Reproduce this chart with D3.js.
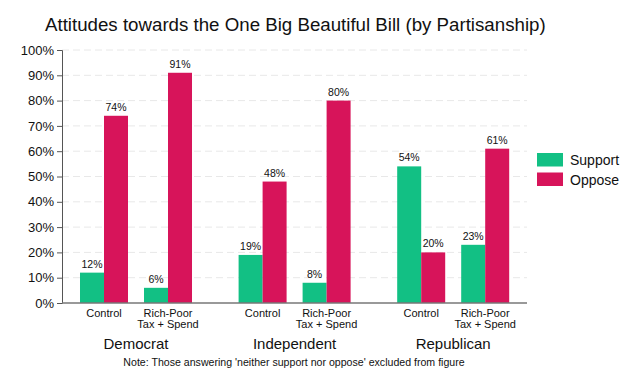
<!DOCTYPE html>
<html>
<head>
<meta charset="utf-8">
<script src="https://cdn.jsdelivr.net/npm/d3@7"></script>
<style>
  body { margin:0; background:#fff; }
  text { font-family: "Liberation Sans", Arial, sans-serif; fill:#111; }
</style>
</head>
<body>
<svg id="chart" width="640" height="384"></svg>
<script>
// data
var parties = ["Democrat", "Independent", "Republican"];
var conditions = ["Control", "Rich-Poor Tax + Spend"];
var series = ["Support", "Oppose"];
var supportVals = [12, 6, 19, 8, 54, 23];
var opposeVals = [74, 91, 48, 80, 20, 61];
var yTicks = [0, 10, 20, 30, 40, 50, 60, 70, 80, 90, 100];
var colors = ["#12c084", "#d7145a"];

var rows = [];
parties.forEach(function(p, i) {
    conditions.forEach(function(c, j) {
        var k = i * 2 + j;
        rows.push({party: p, cond: c, vals: [supportVals[k], opposeVals[k]]});
    });
});

var svg = d3.select("#chart");

var plot = {left: 62, right: 527, top: 50, bottom: 303};

var x0 = d3.scaleBand().domain(parties).range([56.7, 532.5]).padding(0);
var x1 = d3.scaleBand().domain(conditions).range([0, x0.bandwidth()])
    .paddingInner(0.25).paddingOuter(0.364);
var x2 = d3.scaleBand().domain(series).range([0, x1.bandwidth()]);
var y = d3.scaleLinear().domain([0, 100]).range([plot.bottom, plot.top]);

// title
svg.append("text")
    .attr("x", 45).attr("y", 31)
    .style("font-size", "18.7px")
    .text("Attitudes towards the One Big Beautiful Bill (by Partisanship)");

// gridlines
svg.append("g").selectAll("line")
    .data(yTicks.filter(function(d) { return d > 0; }))
    .enter().append("line")
    .attr("x1", plot.left).attr("x2", plot.right)
    .attr("y1", function(d) { return y(d); })
    .attr("y2", function(d) { return y(d); })
    .attr("stroke", "#e8e8e8")
    .attr("stroke-dasharray", "7,4")
    .attr("stroke-width", 1);

// y axis
var yAxis = d3.axisLeft(y).tickValues(yTicks)
    .tickFormat(function(d) { return d + "%"; })
    .tickSize(5).tickPadding(3);
var yg = svg.append("g").attr("transform", "translate(" + plot.left + ",0)").call(yAxis);
yg.select(".domain").attr("stroke", "#555");
yg.selectAll(".tick line").attr("stroke", "#555");
yg.selectAll(".tick text").style("font-size", "13px").attr("fill", "#111")
    .style("font-family", "Liberation Sans, Arial, sans-serif");

// bars
var groups = svg.append("g").selectAll("g")
    .data(rows).enter().append("g")
    .attr("transform", function(d) {
        return "translate(" + (x0(d.party) + x1(d.cond)) + ",0)";
    });

groups.selectAll("rect")
    .data(function(d) { return d.vals.map(function(v, i) { return {s: series[i], v: v, i: i}; }); })
    .enter().append("rect")
    .attr("x", function(d) { return x2(d.s); })
    .attr("width", x2.bandwidth())
    .attr("y", function(d) { return y(d.v); })
    .attr("height", function(d) { return y(0) - y(d.v); })
    .attr("fill", function(d) { return colors[d.i]; });

groups.selectAll("text.val")
    .data(function(d) { return d.vals.map(function(v, i) { return {s: series[i], v: v}; }); })
    .enter().append("text")
    .attr("class", "val")
    .attr("x", function(d) { return x2(d.s) + x2.bandwidth() / 2; })
    .attr("y", function(d) { return y(d.v) - 5; })
    .attr("text-anchor", "middle")
    .style("font-size", "10.5px")
    .text(function(d) { return d.v + "%"; });

// bottom axis line
svg.append("line")
    .attr("x1", plot.left).attr("x2", plot.right)
    .attr("y1", plot.bottom).attr("y2", plot.bottom)
    .attr("stroke", "#777").attr("stroke-width", 1.5);

// condition labels
rows.forEach(function(d) {
    var cx = x0(d.party) + x1(d.cond) + x1.bandwidth() / 2;
    var lines = d.cond === "Control" ? ["Control"] : ["Rich-Poor", "Tax + Spend"];
    var t = svg.append("text")
        .attr("x", cx).attr("y", 317)
        .attr("text-anchor", "middle")
        .style("font-size", "11px");
    lines.forEach(function(l, i) {
        t.append("tspan").attr("x", cx).attr("dy", i === 0 ? 0 : 10.5).text(l);
    });
});

// party labels
svg.append("g").selectAll("text")
    .data(parties).enter().append("text")
    .attr("x", function(d) { return x0(d) + x0.bandwidth() / 2; })
    .attr("y", 349)
    .attr("text-anchor", "middle")
    .style("font-size", "15px")
    .text(function(d) { return d; });

// note
svg.append("text")
    .attr("x", 294).attr("y", 366)
    .attr("text-anchor", "middle")
    .style("font-size", "10.6px")
    .text("Note: Those answering 'neither support nor oppose' excluded from figure");

// legend
var legend = svg.append("g").selectAll("g")
    .data(series).enter().append("g")
    .attr("transform", function(d, i) { return "translate(537," + (153 + i * 19.5) + ")"; });
legend.append("rect")
    .attr("width", 26).attr("height", 13.5)
    .attr("fill", function(d, i) { return colors[i]; });
legend.append("text")
    .attr("x", 33).attr("y", 12)
    .style("font-size", "14px")
    .text(function(d) { return d; });
</script>
</body>
</html>
